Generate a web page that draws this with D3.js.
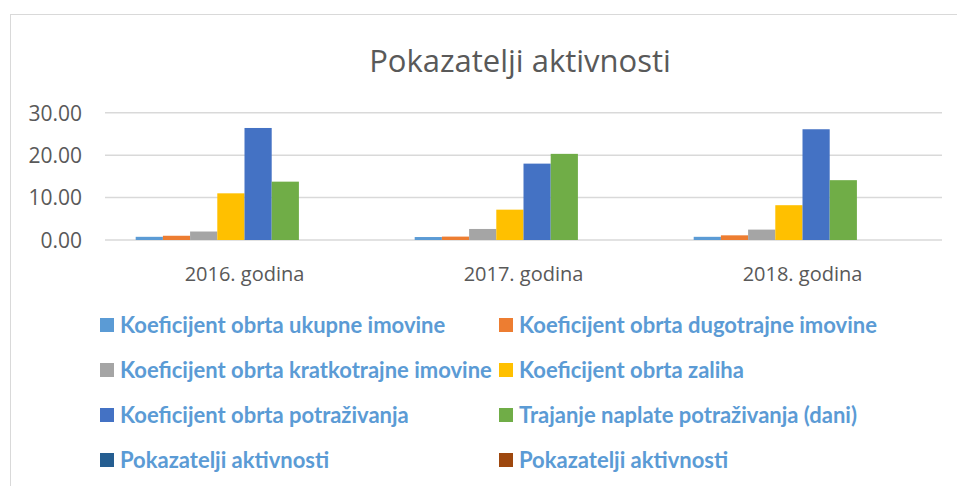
<!DOCTYPE html>
<html><head><meta charset="utf-8">
<script src="https://cdn.jsdelivr.net/npm/d3@7"></script>
<style>body{margin:0;background:#fff;}svg{display:block;}</style>
</head><body>
<svg id="c" width="957" height="486"></svg>
<script>
const title = "Pokazatelji aktivnosti";
const categories = ["2016. godina", "2017. godina", "2018. godina"];
const seriesNames = [
  "Koeficijent obrta ukupne imovine",
  "Koeficijent obrta dugotrajne imovine",
  "Koeficijent obrta kratkotrajne imovine",
  "Koeficijent obrta zaliha",
  "Koeficijent obrta potraživanja",
  "Trajanje naplate potraživanja (dani)",
  "Pokazatelji aktivnosti",
  "Pokazatelji aktivnosti"
];
const seriesColors = ["#5B9BD5","#ED7D31","#A5A5A5","#FFC000","#4472C4","#70AD47","#255E91","#9E480E"];
const ukupne = [0.75, 0.70, 0.75];
const dugotrajne = [1.00, 0.80, 1.10];
const kratkotrajne = [2.00, 2.60, 2.45];
const zalihe = [11.00, 7.15, 8.20];
const potrazivanja = [26.40, 18.00, 26.10];
const trajanje = [13.75, 20.30, 14.10];
const pokazatelji1 = [null, null, null];
const pokazatelji2 = [null, null, null];
const seriesValues = [ukupne, dugotrajne, kratkotrajne, zalihe, potrazivanja, trajanje, pokazatelji1, pokazatelji2];
const yTicks = [0, 10, 20, 30];

const svg = d3.select("#c");
svg.append("rect").attr("x",10.5).attr("y",14.5).attr("width",960).attr("height",480)
  .attr("fill","#fff").attr("stroke","#d9d9d9").attr("stroke-width",1);

svg.append("text").attr("x",520).attr("y",72).attr("text-anchor","middle")
  .attr("font-family","Open Sans").attr("font-size",31).attr("fill","#595959").text(title);

const x0 = d3.scaleBand().domain(categories).range([105, 942]).paddingInner(0.22).paddingOuter(0.11);
const x1 = d3.scaleBand().domain(d3.range(seriesNames.length)).range([0, x0.bandwidth()]);
const y = d3.scaleLinear().domain([0, 30]).range([240, 112.7]);

svg.append("g").selectAll("line").data(yTicks).join("line")
  .attr("x1",105).attr("x2",942).attr("y1",d=>y(d)).attr("y2",d=>y(d))
  .attr("stroke","#d9d9d9").attr("stroke-width",1.5);

const yAxis = d3.axisLeft(y).tickValues(yTicks).tickFormat(d3.format(".2f")).tickSize(0).tickPadding(0);
svg.append("g").attr("transform","translate(82,0)").call(yAxis)
  .call(g=>g.select(".domain").remove())
  .call(g=>g.selectAll("text").attr("font-family","Open Sans").attr("font-size",21).attr("fill","#595959").attr("dy","0.35em"));

const groups = svg.append("g").selectAll("g").data(categories).join("g")
  .attr("transform",d=>`translate(${x0(d)},0)`);
groups.selectAll("rect").data((c,i)=>seriesValues.map((s,k)=>({k, v:s[i]})).filter(d=>d.v!=null))
  .join("rect")
  .attr("x",d=>x1(d.k)).attr("width",x1.bandwidth())
  .attr("y",d=>y(d.v)).attr("height",d=>y(0)-y(d.v))
  .attr("fill",d=>seriesColors[d.k]);

const xAxis = d3.axisBottom(x0).tickSize(0).tickPadding(0);
svg.append("g").attr("transform","translate(0,267)").call(xAxis)
  .call(g=>g.select(".domain").remove())
  .call(g=>g.selectAll("text").attr("font-family","Open Sans").attr("font-size",20).attr("fill","#595959").attr("dy","0.71em"));

const items = svg.append("g").selectAll("g").data(seriesNames).join("g")
  .attr("transform",(d,i)=>`translate(${i%2===0?100:499},${325 + Math.floor(i/2)*45})`);
items.append("rect").attr("x",0).attr("y",-7).attr("width",14).attr("height",14).attr("fill",(d,i)=>seriesColors[i]);
items.append("text").attr("x",20).attr("y",0).attr("dy","0.35em")
  .attr("font-family","Lato").attr("font-weight","bold").attr("font-size",22).attr("fill","#5B9BD5").text(d=>d);
</script>
</body></html>
